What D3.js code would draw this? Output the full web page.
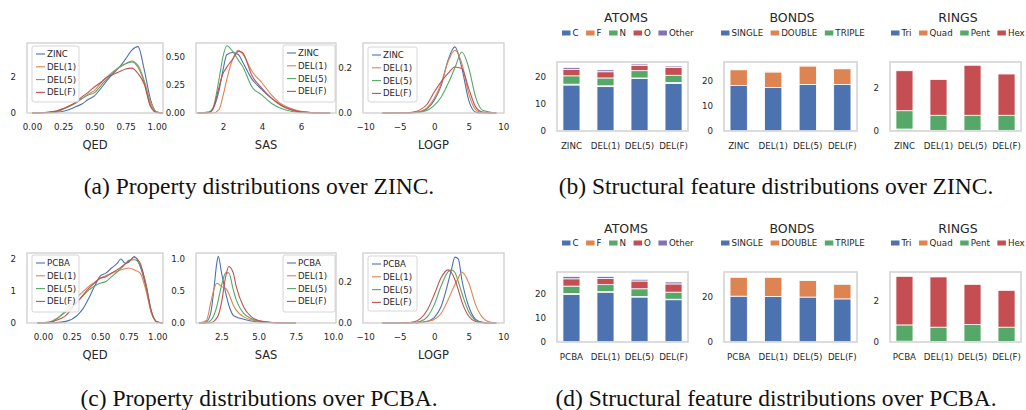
<!DOCTYPE html>
<html>
<head>
<meta charset="utf-8">
<script src="https://cdn.jsdelivr.net/npm/d3@7"></script>
<style>
  body { margin: 0; background: #fff; }
  svg { display: block; }
  text { font-family: "DejaVu Sans", sans-serif; fill: #262626; }
  .caption { font-family: "Liberation Serif", "DejaVu Serif", serif; font-size: 23.5px; fill: #111; }
</style>
</head>
<body>
<div id="chart"></div>
<script>
// ---- data: property distributions (KDE curves) ----
const zincNames = ['ZINC', 'DEL(1)', 'DEL(5)', 'DEL(F)'];
const pcbaNames = ['PCBA', 'DEL(1)', 'DEL(5)', 'DEL(F)'];

const zincQedX = [0, 0.1, 0.2, 0.25, 0.3, 0.35, 0.4, 0.45, 0.5, 0.55, 0.6, 0.65, 0.7, 0.75, 0.8, 0.85, 0.9, 0.95, 1.0, 1.05];
const zincQedZinc = [0, 0.01, 0.05, 0.1, 0.2, 0.35, 0.5, 0.75, 0.95, 1.35, 1.8, 2.2, 2.55, 3.0, 3.5, 3.7, 2.4, 0.75, 0.05, 0];
const zincQedDel1 = [0, 0.02, 0.1, 0.22, 0.37, 0.55, 0.8, 1.05, 1.25, 1.65, 2.0, 2.3, 2.55, 2.75, 2.9, 2.65, 1.8, 0.6, 0.05, 0];
const zincQedDel5 = [0, 0.02, 0.1, 0.22, 0.37, 0.55, 0.8, 1.0, 1.12, 1.5, 1.9, 2.25, 2.55, 2.75, 2.85, 2.55, 1.7, 0.45, 0.04, 0];
const zincQedDelF = [0, 0.03, 0.12, 0.25, 0.4, 0.6, 0.9, 1.15, 1.45, 1.7, 2.0, 2.15, 2.3, 2.45, 2.5, 2.2, 1.6, 0.35, 0.03, 0];

const zincSasX = [0.7, 1.3, 1.5, 1.8, 2.0, 2.2, 2.5, 2.8, 3.0, 3.5, 4.0, 4.5, 5.0, 5.5, 6.0, 7.0, 7.5];
const zincSasZinc = [0, 0.005, 0.04, 0.2, 0.38, 0.52, 0.54, 0.52, 0.46, 0.3, 0.21, 0.13, 0.07, 0.03, 0.01, 0, 0];
const zincSasDel1 = [0, 0, 0, 0.03, 0.15, 0.3, 0.48, 0.56, 0.53, 0.37, 0.27, 0.16, 0.08, 0.04, 0.015, 0, 0];
const zincSasDel5 = [0, 0.01, 0.05, 0.3, 0.5, 0.6, 0.55, 0.47, 0.42, 0.23, 0.16, 0.085, 0.04, 0.015, 0.005, 0, 0];
const zincSasDelF = [0, 0.005, 0.04, 0.23, 0.35, 0.41, 0.48, 0.55, 0.54, 0.33, 0.22, 0.13, 0.065, 0.03, 0.01, 0, 0];

const zincLogpX = [-7.5, -4, -3, -2, -1, 0, 1, 2, 3, 4, 5, 6, 7, 9];
const zincLogpZinc = [0, 0, 0.001, 0.005, 0.02, 0.056, 0.12, 0.234, 0.293, 0.2, 0.056, 0.004, 0, 0];
const zincLogpDel1 = [0, 0, 0.002, 0.007, 0.024, 0.064, 0.13, 0.227, 0.278, 0.22, 0.086, 0.015, 0.001, 0];
const zincLogpDel5 = [0, 0.001, 0.002, 0.004, 0.012, 0.034, 0.07, 0.13, 0.2, 0.27, 0.2, 0.07, 0.012, 0];
const zincLogpDelF = [0, 0.001, 0.004, 0.015, 0.04, 0.093, 0.138, 0.175, 0.204, 0.197, 0.108, 0.027, 0.004, 0];

const pcbaQedX = [-0.05, 0.05, 0.1, 0.2, 0.3, 0.35, 0.4, 0.45, 0.5, 0.55, 0.6, 0.65, 0.68, 0.72, 0.75, 0.8, 0.85, 0.9, 0.95, 1.0, 1.05];
const pcbaQedPcba = [0, 0, 0.005, 0.05, 0.24, 0.45, 0.77, 1.14, 1.47, 1.56, 1.72, 1.87, 2.0, 1.87, 1.9, 2.08, 1.77, 1.14, 0.3, 0.03, 0];
const pcbaQedDel1 = [0, 0.02, 0.08, 0.4, 0.82, 0.98, 1.14, 1.27, 1.4, 1.48, 1.56, 1.62, 1.66, 1.7, 1.72, 1.66, 1.56, 1.03, 0.3, 0.03, 0];
const pcbaQedDel5 = [0, 0.03, 0.1, 0.35, 0.66, 0.85, 1.03, 1.15, 1.24, 1.3, 1.45, 1.6, 1.7, 1.85, 1.96, 1.98, 1.82, 1.24, 0.35, 0.03, 0];
const pcbaQedDelF = [0, 0.01, 0.06, 0.24, 0.66, 0.87, 1.08, 1.25, 1.4, 1.45, 1.56, 1.67, 1.74, 1.85, 1.93, 2.05, 1.87, 1.19, 0.35, 0.03, 0];

const pcbaSasX = [1.0, 1.5, 1.8, 2.0, 2.2, 2.3, 2.5, 2.8, 3.0, 3.3, 3.5, 4.0, 4.5, 5.0, 6.0, 7.5];
const pcbaSasPcba = [0, 0.02, 0.17, 0.52, 0.94, 1.04, 0.8, 0.46, 0.28, 0.12, 0.095, 0.058, 0.03, 0.015, 0.003, 0];
const pcbaSasDel1 = [0, 0.04, 0.33, 0.52, 0.62, 0.61, 0.57, 0.54, 0.46, 0.28, 0.2, 0.095, 0.05, 0.025, 0.005, 0];
const pcbaSasDel5 = [0, 0.005, 0.04, 0.12, 0.26, 0.36, 0.57, 0.78, 0.78, 0.52, 0.36, 0.15, 0.07, 0.03, 0.005, 0];
const pcbaSasDelF = [0, 0, 0.005, 0.025, 0.08, 0.12, 0.3, 0.73, 0.88, 0.78, 0.57, 0.25, 0.1, 0.04, 0.008, 0];

const pcbaLogpX = [-7.5, -4, -3, -2, -1, 0, 1, 2, 2.5, 3, 3.5, 4, 5, 6, 7, 8, 9];
const pcbaLogpPcba = [0, 0, 0, 0.002, 0.008, 0.026, 0.08, 0.195, 0.26, 0.32, 0.31, 0.21, 0.08, 0.018, 0.003, 0, 0];
const pcbaLogpDel1 = [0, 0, 0.001, 0.003, 0.008, 0.017, 0.046, 0.112, 0.15, 0.187, 0.22, 0.248, 0.195, 0.088, 0.026, 0.005, 0];
const pcbaLogpDel5 = [0, 0.001, 0.003, 0.008, 0.03, 0.088, 0.18, 0.248, 0.258, 0.245, 0.2, 0.145, 0.055, 0.013, 0.002, 0, 0];
const pcbaLogpDelF = [0, 0.001, 0.005, 0.021, 0.063, 0.137, 0.22, 0.258, 0.245, 0.21, 0.16, 0.104, 0.033, 0.007, 0.001, 0, 0];

// ---- data: structural features (stacked bars) ----
const zincCats = ['ZINC', 'DEL(1)', 'DEL(5)', 'DEL(F)'];
const pcbaCats = ['PCBA', 'DEL(1)', 'DEL(5)', 'DEL(F)'];

const atomKeys = ['C', 'F', 'N', 'O', 'Other'];
const zincAtomC = [17.0, 16.4, 19.4, 17.6];
const zincAtomF = [0.3, 0.3, 0.2, 0.3];
const zincAtomN = [3.1, 2.9, 2.7, 2.7];
const zincAtomO = [2.4, 2.3, 2.0, 2.9];
const zincAtomOther = [0.7, 0.7, 0.5, 0.5];
const pcbaAtomC = [19.6, 20.5, 18.5, 17.4];
const pcbaAtomF = [0.3, 0.2, 0.2, 0.2];
const pcbaAtomN = [3.1, 2.9, 3.2, 2.9];
const pcbaAtomO = [3.0, 2.5, 3.2, 3.4];
const pcbaAtomOther = [1.0, 0.9, 0.7, 0.8];

const bondKeys = ['SINGLE', 'DOUBLE', 'TRIPLE'];
const zincBondSingle = [18.3, 17.5, 18.7, 18.7];
const zincBondDouble = [6.3, 6.2, 7.4, 6.3];
const zincBondTriple = [0.1, 0.1, 0.1, 0.1];
const pcbaBondSingle = [20.3, 20.2, 19.9, 19.1];
const pcbaBondDouble = [8.4, 8.5, 7.4, 6.5];
const pcbaBondTriple = [0.1, 0.1, 0.1, 0.1];

const ringKeys = ['Tri', 'Quad', 'Pent', 'Hex'];
const zincRingTri = [0.08, 0.02, 0.02, 0.02];
const zincRingQuad = [0.01, 0.01, 0.01, 0.01];
const zincRingPent = [0.84, 0.69, 0.69, 0.69];
const zincRingHex = [1.83, 1.64, 2.29, 1.89];
const pcbaRingTri = [0.03, 0.02, 0.02, 0.02];
const pcbaRingQuad = [0.01, 0.01, 0.01, 0.01];
const pcbaRingPent = [0.79, 0.69, 0.82, 0.69];
const pcbaRingHex = [2.36, 2.44, 1.95, 1.79];

const palette = ['#4c72b0', '#dd8452', '#55a868', '#c44e52', '#8172b3'];

const svg = d3.select('#chart').append('svg')
    .attr('width', 1026).attr('height', 410);

function kdePanel(cfg){
    const [x0, y0, x1, y1] = cfg.frame;
    const x = d3.scaleLinear(cfg.xDomain, [x0, x1]);
    const y = d3.scaleLinear(cfg.yDomain, [y1, y0]);
    const g = svg.append('g');

    const line = d3.line()
        .x(d => x(d[0])).y(d => y(d[1]))
        .curve(d3.curveMonotoneX);
    cfg.series.forEach((vals, i) => {
        g.append('path')
            .datum(cfg.xs.map((v, j) => [v, vals[j]]))
            .attr('d', line)
            .attr('fill', 'none')
            .attr('stroke', palette[i])
            .attr('stroke-width', 1.1);
    });

    g.append('rect')
        .attr('x', x0).attr('y', y0).attr('width', x1 - x0).attr('height', y1 - y0)
        .attr('fill', 'none').attr('stroke', '#cccccc').attr('stroke-width', 1.25);

    const axX = g.append('g').attr('transform', `translate(0,${y1})`)
        .call(d3.axisBottom(x).tickValues(cfg.xTicks).tickFormat(cfg.xFmt).tickSize(0).tickPadding(11));
    const axY = g.append('g').attr('transform', `translate(${x0},0)`)
        .call(d3.axisLeft(y).tickValues(cfg.yTicks).tickFormat(cfg.yFmt).tickSize(0).tickPadding(11));
    [axX, axY].forEach(a => {
        a.select('.domain').remove();
        a.selectAll('text').attr('font-size', 8.7).attr('font-family', 'DejaVu Sans').attr('fill', '#262626');
    });

    g.append('text')
        .attr('x', (x0 + x1) / 2).attr('y', y1 + 36)
        .attr('text-anchor', 'middle').attr('font-size', 11.5)
        .text(cfg.label);

    const [lx, ly, lw, lh] = cfg.legend;
    g.append('rect')
        .attr('x', lx).attr('y', ly).attr('width', lw).attr('height', lh).attr('rx', 2)
        .attr('fill', '#fff').attr('fill-opacity', 0.85)
        .attr('stroke', '#cccccc').attr('stroke-width', 0.8);
    cfg.names.forEach((n, i) => {
        const yy = ly + 8 + i * 12.8;
        g.append('line')
            .attr('x1', lx + 4).attr('x2', lx + 13).attr('y1', yy).attr('y2', yy)
            .attr('stroke', palette[i]).attr('stroke-width', 1.1);
        g.append('text')
            .attr('x', lx + 15).attr('y', yy).attr('dy', '0.35em')
            .attr('font-size', 8.6).text(n);
    });
}

function barPanel(cfg){
    const [x0, y0, x1, y1] = cfg.frame;
    const x = d3.scaleBand(cfg.cats, [x0, x1]).paddingInner(0.5).paddingOuter(0.175);
    const y = d3.scaleLinear(cfg.yDomain, [y1, y0]);
    const g = svg.append('g');

    const rows = cfg.cats.map((c, i) => {
        const r = { cat: c };
        cfg.keys.forEach((k, j) => r[k] = cfg.stacks[j][i]);
        return r;
    });
    const stacked = d3.stack().keys(cfg.keys)(rows);

    g.selectAll('g.layer').data(stacked).join('g')
        .classed('layer', true)
        .attr('fill', (d, i) => palette[i])
        .selectAll('rect').data(d => d).join('rect')
        .attr('x', d => x(d.data.cat))
        .attr('width', x.bandwidth())
        .attr('y', d => y(d[1]))
        .attr('height', d => y(d[0]) - y(d[1]))
        .attr('stroke', '#fff').attr('stroke-width', 0.8);

    g.append('rect')
        .attr('x', x0).attr('y', y0).attr('width', x1 - x0).attr('height', y1 - y0)
        .attr('fill', 'none').attr('stroke', '#d9d9d9').attr('stroke-width', 1.8);

    const axX = g.append('g').attr('transform', `translate(0,${y1})`)
        .call(d3.axisBottom(x).tickSize(0).tickPadding(12));
    const axY = g.append('g').attr('transform', `translate(${x0},0)`)
        .call(d3.axisLeft(y).tickValues(cfg.yTicks).tickFormat(d3.format('d')).tickSize(0).tickPadding(11));
    [axX, axY].forEach(a => {
        a.select('.domain').remove();
        a.selectAll('text').attr('font-size', 8.7).attr('font-family', 'DejaVu Sans').attr('fill', '#262626');
    });

    g.append('text')
        .attr('x', cfg.titleX).attr('y', cfg.titleY).attr('dy', '0.35em')
        .attr('text-anchor', 'middle').attr('font-size', 12.5)
        .text(cfg.title);

    let lx = cfg.legendX;
    cfg.keys.forEach((k, i) => {
        g.append('rect')
            .attr('x', lx).attr('y', cfg.legendY - 2.5).attr('width', 8.5).attr('height', 5)
            .attr('fill', palette[i]);
        const t = g.append('text')
            .attr('x', lx + 10.5).attr('y', cfg.legendY).attr('dy', '0.35em')
            .attr('font-size', 8.7).text(k);
        lx += 10.5 + t.node().getComputedTextLength() + 7.5;
    });
}

const f2 = d3.format('.2f'), f1 = d3.format('.1f'), f0 = d3.format('d');

// (a) ZINC properties
kdePanel({ frame: [27, 43, 163, 113], xDomain: [-0.04, 1.05], yDomain: [0, 3.9],
    xTicks: [0, 0.25, 0.5, 0.75, 1], yTicks: [0, 2], xFmt: f2, yFmt: f0,
    xs: zincQedX, series: [zincQedZinc, zincQedDel1, zincQedDel5, zincQedDelF],
    names: zincNames, label: 'QED', legend: [32, 46, 47, 56] });
kdePanel({ frame: [196, 43, 336, 113], xDomain: [0.62, 7.8], yDomain: [0, 0.625],
    xTicks: [2, 4, 6], yTicks: [0, 0.25, 0.5], xFmt: f0, yFmt: f2,
    xs: zincSasX, series: [zincSasZinc, zincSasDel1, zincSasDel5, zincSasDelF],
    names: zincNames, label: 'SAS', legend: [283, 45, 52, 57] });
kdePanel({ frame: [363, 43, 504, 113], xDomain: [-10.3, 10.1], yDomain: [0, 0.31],
    xTicks: [-10, -5, 0, 5, 10], yTicks: [0, 0.2], xFmt: d3.format('d'), yFmt: f1,
    xs: zincLogpX, series: [zincLogpZinc, zincLogpDel1, zincLogpDel5, zincLogpDelF],
    names: zincNames, label: 'LOGP', legend: [368, 47, 49, 55] });

// (c) PCBA properties
kdePanel({ frame: [27, 253, 163, 323], xDomain: [-0.14, 1.05], yDomain: [0, 2.19],
    xTicks: [0, 0.25, 0.5, 0.75, 1], yTicks: [0, 1, 2], xFmt: f2, yFmt: f0,
    xs: pcbaQedX, series: [pcbaQedPcba, pcbaQedDel1, pcbaQedDel5, pcbaQedDelF],
    names: pcbaNames, label: 'QED', legend: [32, 255, 47, 57] });
kdePanel({ frame: [196, 253, 336, 323], xDomain: [0.8, 10.2], yDomain: [0, 1.09],
    xTicks: [2.5, 5, 7.5, 10], yTicks: [0, 0.5, 1], xFmt: f1, yFmt: f1,
    xs: pcbaSasX, series: [pcbaSasPcba, pcbaSasDel1, pcbaSasDel5, pcbaSasDelF],
    names: pcbaNames, label: 'SAS', legend: [283, 255, 52, 57] });
kdePanel({ frame: [363, 253, 504, 323], xDomain: [-10.3, 10.1], yDomain: [0, 0.34],
    xTicks: [-10, -5, 0, 5, 10], yTicks: [0, 0.2], xFmt: d3.format('d'), yFmt: f1,
    xs: pcbaLogpX, series: [pcbaLogpPcba, pcbaLogpDel1, pcbaLogpDel5, pcbaLogpDelF],
    names: pcbaNames, label: 'LOGP', legend: [368, 256, 49, 55] });

// (b) ZINC structure
barPanel({ frame: [557, 62, 688, 131], cats: zincCats, keys: atomKeys,
    stacks: [zincAtomC, zincAtomF, zincAtomN, zincAtomO, zincAtomOther],
    yDomain: [0, 25.5], yTicks: [0, 10, 20], title: 'ATOMS', titleX: 626, titleY: 18, legendX: 562, legendY: 33 });
barPanel({ frame: [724, 62, 857, 131], cats: zincCats, keys: bondKeys,
    stacks: [zincBondSingle, zincBondDouble, zincBondTriple],
    yDomain: [0, 27.7], yTicks: [0, 10, 20], title: 'BONDS', titleX: 792, titleY: 18, legendX: 721, legendY: 33 });
barPanel({ frame: [890, 62, 1021, 131], cats: zincCats, keys: ringKeys,
    stacks: [zincRingTri, zincRingQuad, zincRingPent, zincRingHex],
    yDomain: [0, 3.16], yTicks: [0, 2], title: 'RINGS', titleX: 958, titleY: 18, legendX: 891, legendY: 33 });

// (d) PCBA structure
barPanel({ frame: [557, 272, 688, 342], cats: pcbaCats, keys: atomKeys,
    stacks: [pcbaAtomC, pcbaAtomF, pcbaAtomN, pcbaAtomO, pcbaAtomOther],
    yDomain: [0, 28.8], yTicks: [0, 10, 20], title: 'ATOMS', titleX: 626, titleY: 229, legendX: 562, legendY: 243 });
barPanel({ frame: [724, 272, 857, 342], cats: pcbaCats, keys: bondKeys,
    stacks: [pcbaBondSingle, pcbaBondDouble, pcbaBondTriple],
    yDomain: [0, 31], yTicks: [0, 20], title: 'BONDS', titleX: 792, titleY: 229, legendX: 721, legendY: 243 });
barPanel({ frame: [890, 272, 1021, 342], cats: pcbaCats, keys: ringKeys,
    stacks: [pcbaRingTri, pcbaRingQuad, pcbaRingPent, pcbaRingHex],
    yDomain: [0, 3.4], yTicks: [0, 2], title: 'RINGS', titleX: 958, titleY: 229, legendX: 891, legendY: 243 });

// captions
const captions = [
    ['(a) Property distributions over ZINC.', 259, 186],
    ['(b) Structural feature distributions over ZINC.', 776, 186],
    ['(c) Property distributions over PCBA.', 259, 398],
    ['(d) Structural feature distributions over PCBA.', 776, 398]
];
svg.selectAll('text.caption').data(captions).join('text')
    .classed('caption', true)
    .attr('x', d => d[1]).attr('y', d => d[2]).attr('dy', '0.35em')
    .attr('text-anchor', 'middle')
    .text(d => d[0]);
</script>
</body>
</html>
